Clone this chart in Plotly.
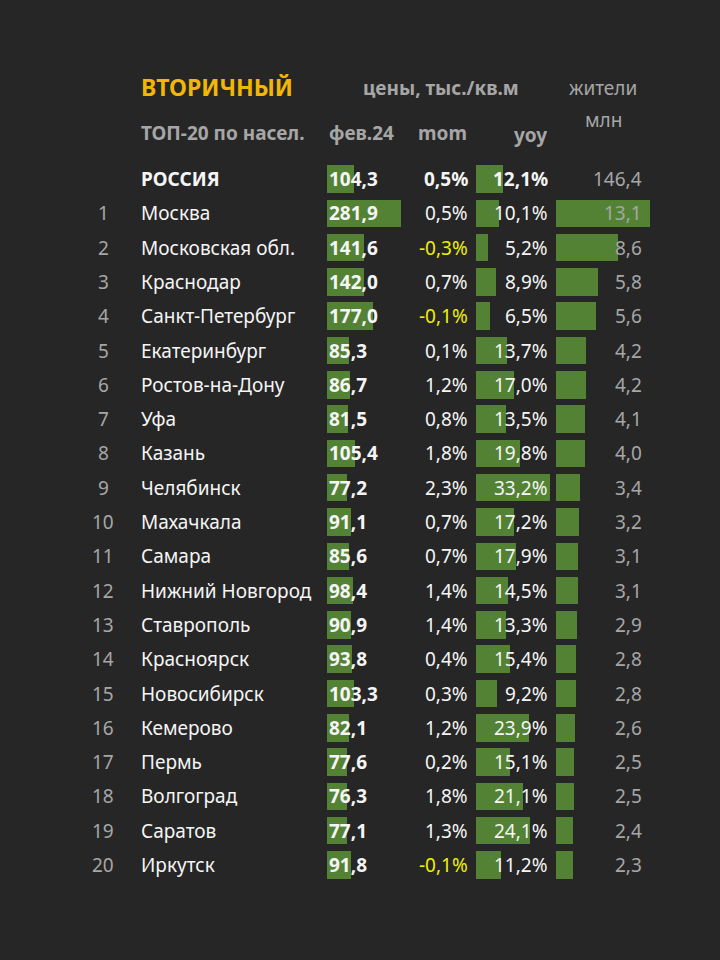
import plotly.graph_objects as go

W, H = 720, 960

# data
rows = ["РОССИЯ", "Москва", "Московская обл.", "Краснодар", "Санкт-Петербург",
        "Екатеринбург", "Ростов-на-Дону", "Уфа", "Казань", "Челябинск",
        "Махачкала", "Самара", "Нижний Новгород", "Ставрополь", "Красноярск",
        "Новосибирск", "Кемерово", "Пермь", "Волгоград", "Саратов", "Иркутск"]
price = [104.3, 281.9, 141.6, 142.0, 177.0, 85.3, 86.7, 81.5, 105.4, 77.2,
         91.1, 85.6, 98.4, 90.9, 93.8, 103.3, 82.1, 77.6, 76.3, 77.1, 91.8]
mom = [0.5, 0.5, -0.3, 0.7, -0.1, 0.1, 1.2, 0.8, 1.8, 2.3,
       0.7, 0.7, 1.4, 1.4, 0.4, 0.3, 1.2, 0.2, 1.8, 1.3, -0.1]
yoy = [12.1, 10.1, 5.2, 8.9, 6.5, 13.7, 17.0, 13.5, 19.8, 33.2,
       17.2, 17.9, 14.5, 13.3, 15.4, 9.2, 23.9, 15.1, 21.1, 24.1, 11.2]
pop = [146.4, 13.1, 8.6, 5.8, 5.6, 4.2, 4.2, 4.1, 4.0, 3.4,
       3.2, 3.1, 3.1, 2.9, 2.8, 2.8, 2.6, 2.5, 2.5, 2.4, 2.3]

BG = "#262626"
GREEN = "#548235"
GREY = "#a6a6a6"
WHITE = "#f5f5f5"
GOLD = "#f2b705"
YELLOW = "#f0f000"
FONT = "Noto Sans"


def fmt(v, d=1):
    return f"{v:.{d}f}".replace(".", ",")


idx = list(range(len(rows)))
row0_px, step_px = 179, 34.3
y_top = -row0_px / step_px
y_bot = (H - row0_px) / step_px

fig = go.Figure()
fig.add_trace(go.Bar(x=price, y=idx, orientation="h", xaxis="x", yaxis="y",
                     marker=dict(color=GREEN, line_width=0), width=0.8))
fig.add_trace(go.Bar(x=yoy, y=idx, orientation="h", xaxis="x2", yaxis="y",
                     marker=dict(color=GREEN, line_width=0), width=0.8))
fig.add_trace(go.Bar(x=pop[1:], y=idx[1:], orientation="h", xaxis="x3", yaxis="y",
                     marker=dict(color=GREEN, line_width=0), width=0.8))

ax = dict(visible=False, fixedrange=True)
fig.update_layout(
    width=W, height=H,
    margin=dict(l=0, r=0, t=0, b=0),
    paper_bgcolor=BG, plot_bgcolor=BG,
    showlegend=False, bargap=0,
    xaxis=dict(domain=[327 / W, 401 / W], range=[0, max(price)], **ax),
    xaxis2=dict(domain=[476 / W, 550 / W], range=[0, max(yoy)], **ax),
    xaxis3=dict(domain=[556 / W, 650 / W], range=[0, max(pop[1:])], **ax),
    yaxis=dict(domain=[0, 1], range=[y_bot, y_top], **ax),
    font=dict(family=FONT, color=WHITE),
)

ann = []


def txt(x, y, s, size=19, color=WHITE, bold=False, anchor="left", yref="y"):
    if bold:
        s = f"<b>{s}</b>"
    ann.append(dict(x=x / W, y=y if yref == "y" else 1 - y / H, xref="paper", yref=yref,
                    text=s, showarrow=False, xanchor=anchor, yanchor="middle",
                    font=dict(family=FONT, size=size, color=color)))


# headers
txt(139, 87, "ВТОРИЧНЫЙ", size=23, color=GOLD, bold=True, yref="paper")
txt(441, 88, "цены, тыс./кв.м", size=19, color=GREY, bold=True, anchor="center", yref="paper")
txt(603, 88, "жители", size=19, color=GREY, anchor="center", yref="paper")
txt(603, 120, "млн", size=19, color=GREY, anchor="center", yref="paper")
txt(139, 133, "ТОП-20 по насел.", size=19, color=GREY, bold=True, yref="paper")
txt(327, 133, "фев.24", size=19, color=GREY, bold=True, yref="paper")
txt(442, 133, "mom", size=19, color=GREY, bold=True, anchor="center", yref="paper")
txt(549, 135, "yoy", size=19, color=GREY, bold=True, anchor="right", yref="paper")

for i, name in enumerate(rows):
    head = i == 0
    if not head:
        txt(103, i, str(i), color=GREY, anchor="center")
    txt(139, i, name, bold=head)
    txt(327, i, fmt(price[i]), bold=True)
    txt(470, i, fmt(mom[i]) + "%", color=YELLOW if mom[i] < 0 else WHITE,
        bold=head, anchor="right")
    txt(550, i, fmt(yoy[i]) + "%", bold=head, anchor="right")
    txt(644, i, fmt(pop[i]), color=GREY, anchor="right")

fig.update_layout(annotations=ann)
fig.write_html("out.html", config={"displayModeBar": False},
               post_script="document.body.style.margin='0';"
                           "document.body.style.background='#262626';")
